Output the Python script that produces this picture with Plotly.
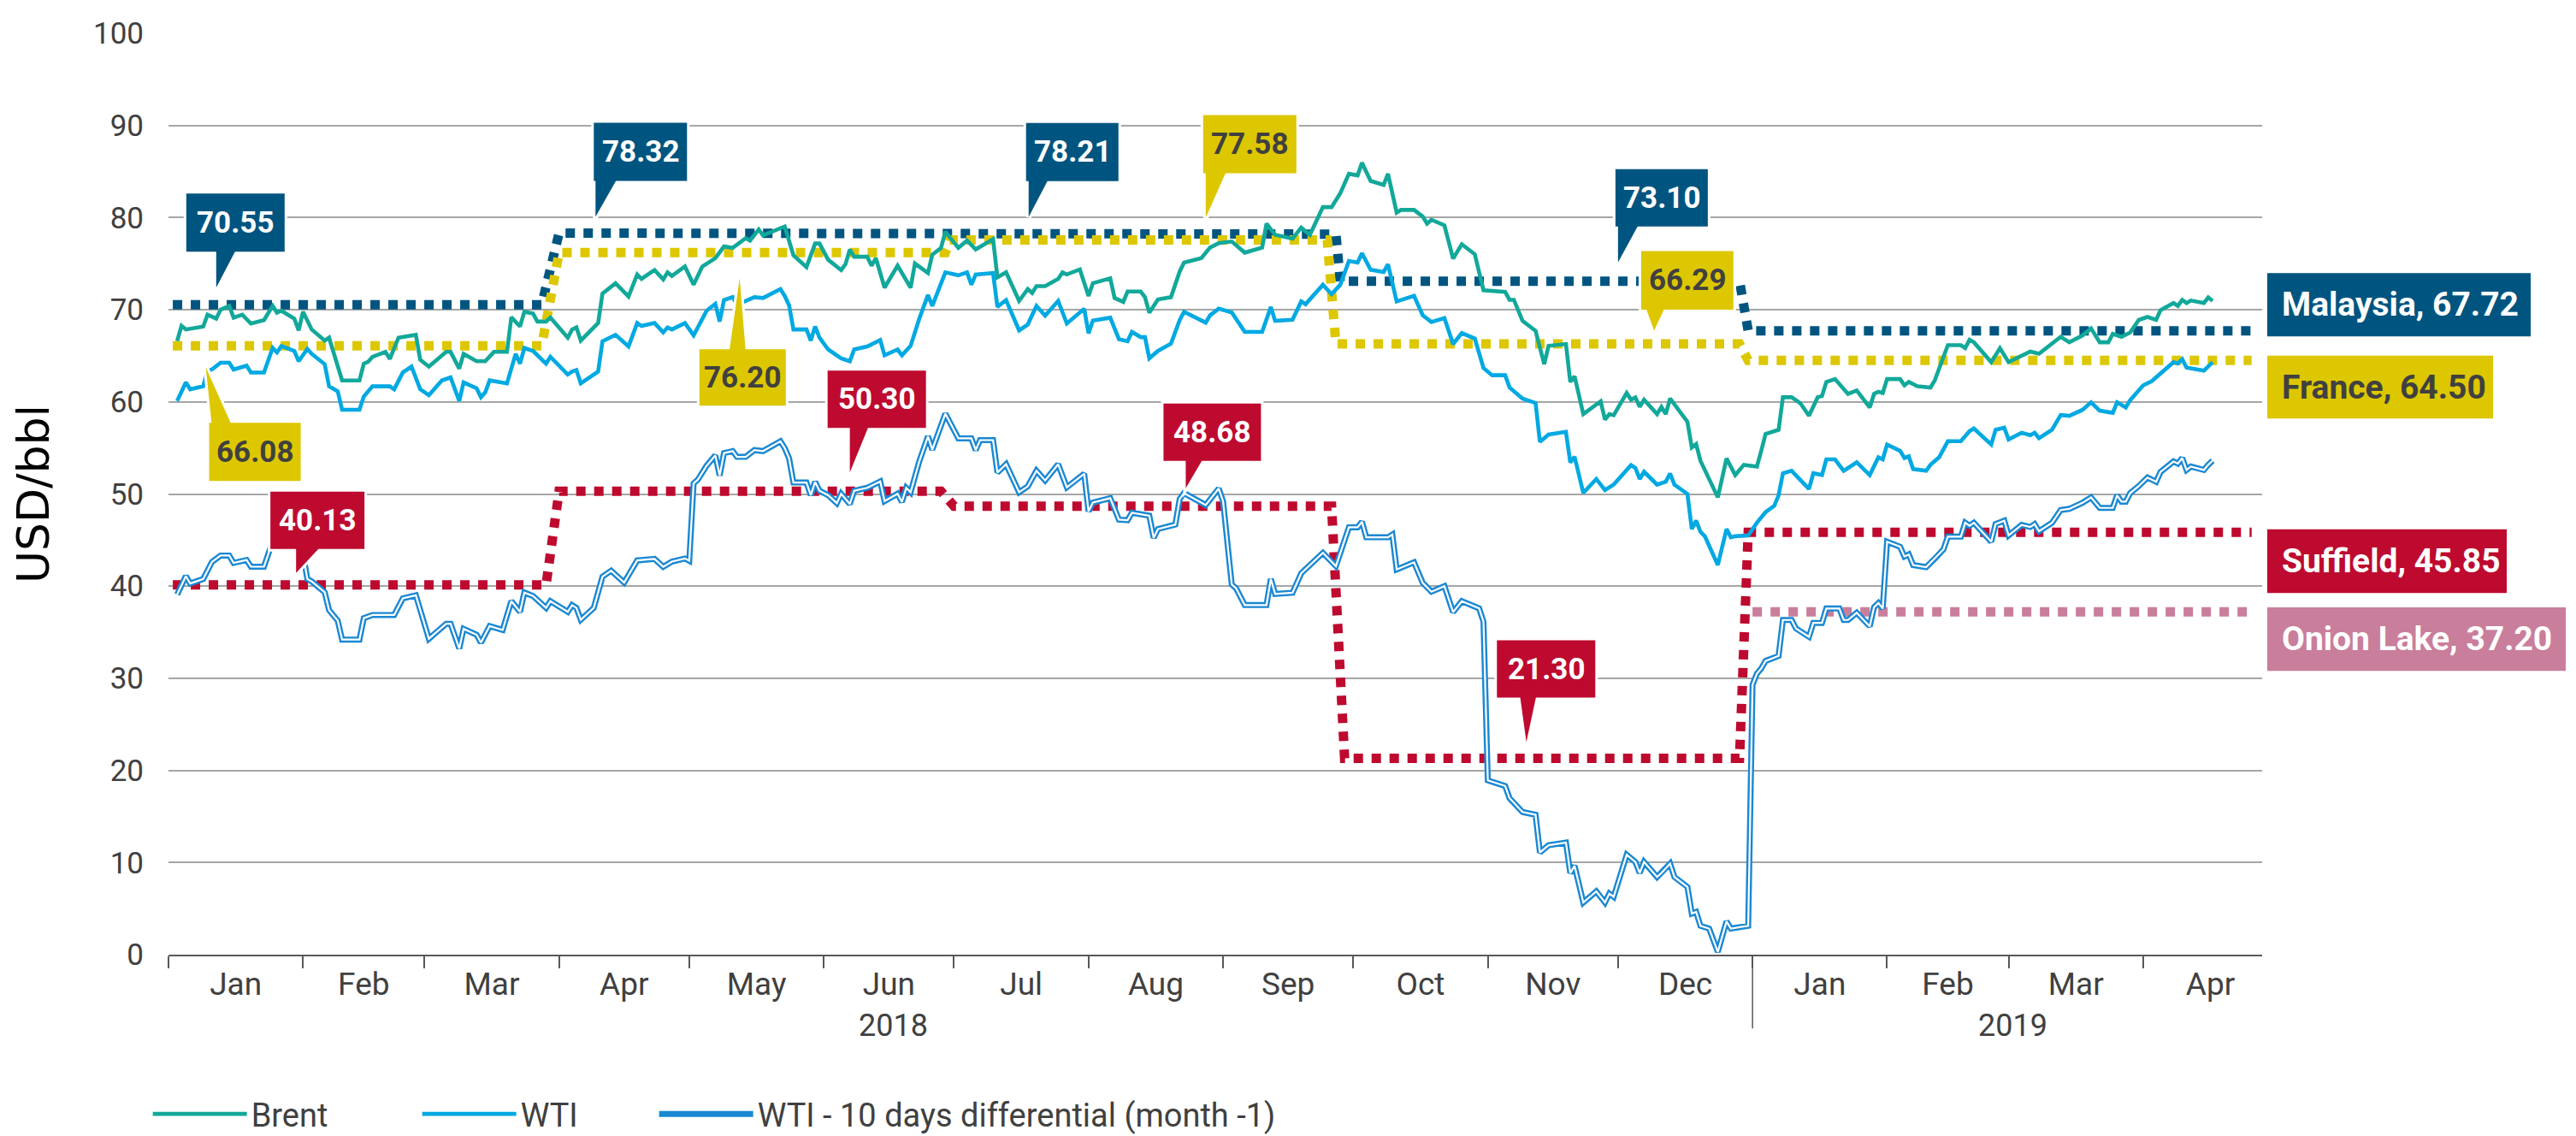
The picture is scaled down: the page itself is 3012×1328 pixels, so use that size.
import plotly.graph_objects as go

# ---------------- DATA ----------------
brent_dates = ["2018-01-03","2018-01-04","2018-01-05","2018-01-09","2018-01-10","2018-01-12","2018-01-13","2018-01-15","2018-01-16","2018-01-18","2018-01-20","2018-01-23","2018-01-25","2018-01-26","2018-01-27","2018-01-30","2018-01-31","2018-02-01","2018-02-03","2018-02-06","2018-02-07","2018-02-08","2018-02-09","2018-02-10","2018-02-14","2018-02-15","2018-02-16","2018-02-17","2018-02-20","2018-02-21","2018-02-23","2018-02-27","2018-02-28","2018-03-02","2018-03-06","2018-03-07","2018-03-09","2018-03-10","2018-03-13","2018-03-15","2018-03-17","2018-03-20","2018-03-21","2018-03-23","2018-03-24","2018-03-26","2018-03-27","2018-03-29","2018-03-30","2018-04-03","2018-04-04","2018-04-05","2018-04-06","2018-04-10","2018-04-11","2018-04-14","2018-04-17","2018-04-19","2018-04-20","2018-04-23","2018-04-25","2018-04-26","2018-04-27","2018-04-30","2018-05-02","2018-05-04","2018-05-07","2018-05-09","2018-05-11","2018-05-14","2018-05-15","2018-05-17","2018-05-18","2018-05-21","2018-05-23","2018-05-25","2018-05-28","2018-05-30","2018-05-31","2018-06-02","2018-06-05","2018-06-06","2018-06-07","2018-06-08","2018-06-11","2018-06-12","2018-06-13","2018-06-15","2018-06-18","2018-06-21","2018-06-22","2018-06-25","2018-06-26","2018-06-28","2018-06-29","2018-07-02","2018-07-04","2018-07-06","2018-07-10","2018-07-11","2018-07-13","2018-07-16","2018-07-18","2018-07-19","2018-07-20","2018-07-22","2018-07-25","2018-07-26","2018-07-27","2018-07-30","2018-08-01","2018-08-02","2018-08-06","2018-08-07","2018-08-09","2018-08-10","2018-08-13","2018-08-14","2018-08-15","2018-08-17","2018-08-20","2018-08-22","2018-08-23","2018-08-27","2018-08-29","2018-08-31","2018-09-03","2018-09-06","2018-09-10","2018-09-11","2018-09-13","2018-09-17","2018-09-19","2018-09-21","2018-09-24","2018-09-26","2018-09-28","2018-09-30","2018-10-02","2018-10-03","2018-10-05","2018-10-08","2018-10-09","2018-10-11","2018-10-12","2018-10-15","2018-10-17","2018-10-18","2018-10-19","2018-10-22","2018-10-24","2018-10-26","2018-10-29","2018-10-31","2018-11-05","2018-11-06","2018-11-07","2018-11-09","2018-11-12","2018-11-14","2018-11-15","2018-11-19","2018-11-20","2018-11-21","2018-11-23","2018-11-27","2018-11-28","2018-11-29","2018-11-30","2018-12-03","2018-12-04","2018-12-05","2018-12-06","2018-12-07","2018-12-10","2018-12-11","2018-12-12","2018-12-13","2018-12-17","2018-12-18","2018-12-19","2018-12-20","2018-12-24","2018-12-26","2018-12-28","2018-12-30","2019-01-02","2019-01-03","2019-01-04","2019-01-07","2019-01-08","2019-01-10","2019-01-12","2019-01-14","2019-01-16","2019-01-17","2019-01-18","2019-01-20","2019-01-23","2019-01-25","2019-01-28","2019-01-29","2019-01-30","2019-01-31","2019-02-01","2019-02-04","2019-02-05","2019-02-06","2019-02-08","2019-02-11","2019-02-12","2019-02-13","2019-02-15","2019-02-18","2019-02-19","2019-02-20","2019-02-21","2019-02-25","2019-02-27","2019-03-01","2019-03-04","2019-03-06","2019-03-08","2019-03-11","2019-03-13","2019-03-15","2019-03-18","2019-03-20","2019-03-22","2019-03-24","2019-03-25","2019-03-27","2019-03-29","2019-03-31","2019-04-02","2019-04-04","2019-04-05","2019-04-08","2019-04-09","2019-04-10","2019-04-11","2019-04-12","2019-04-15","2019-04-16","2019-04-17"]
brent_vals = [66.6,68.24,67.86,68.18,69.46,69.04,70.0,70.42,69.14,69.46,68.5,68.88,70.42,69.68,69.9,69.04,67.76,69.78,67.86,66.65,66.97,65.37,64.09,62.33,62.33,64.15,64.35,64.89,65.43,64.66,66.97,67.28,64.57,63.83,65.43,65.43,63.61,65.21,64.41,64.41,65.43,65.43,69.2,68.18,69.78,69.58,68.72,68.72,69.14,66.97,67.86,68.08,66.65,68.56,71.76,72.88,71.44,73.83,73.35,74.31,73.29,74.06,73.67,74.7,72.72,74.7,75.59,76.87,76.71,77.76,77.51,78.72,78.08,78.63,79.04,75.91,74.63,77.19,77.19,75.43,74.31,74.95,76.55,75.75,75.75,74.79,75.59,72.4,74.79,72.4,75.02,73.99,75.97,76.71,78.47,76.71,77.51,76.55,77.67,73.51,74.06,70.96,72.24,71.82,72.56,72.56,73.35,74.06,73.83,74.38,71.5,72.88,73.42,71.28,70.86,71.98,71.98,71.37,69.68,71.12,71.37,74.15,75.11,75.6,76.75,77.23,77.41,76.2,76.75,79.34,78.13,77.71,78.92,78.13,81.14,81.14,82.65,84.76,84.58,85.96,83.98,83.55,84.76,80.54,80.84,80.84,80.12,79.34,79.76,79.16,75.54,77.11,76.02,72.11,71.93,71.08,71.08,68.8,67.71,64.1,66.08,66.27,62.17,62.77,58.67,60.06,58.07,58.67,58.55,60.96,60.24,60.48,59.46,60.24,58.67,59.46,58.67,60.36,57.83,55.06,55.42,53.61,49.64,53.86,52.05,53.17,52.98,54.68,56.51,56.97,60.5,60.5,59.86,58.49,60.5,60.64,62.16,62.48,60.87,61.24,59.4,60.87,61.1,60.96,62.48,62.48,61.79,62.16,61.7,61.56,62.34,63.62,66.15,66.15,65.83,66.74,66.47,64.31,65.83,64.31,65.0,65.46,65.23,66.28,67.06,66.47,67.2,67.98,66.47,66.47,67.39,67.06,67.52,68.9,69.22,68.9,69.95,70.73,70.41,71.06,70.73,71.0,70.73,71.33,70.96]

wti_dates = ["2018-01-03","2018-01-05","2018-01-06","2018-01-09","2018-01-10","2018-01-11","2018-01-13","2018-01-15","2018-01-16","2018-01-19","2018-01-20","2018-01-23","2018-01-25","2018-01-26","2018-01-27","2018-01-30","2018-01-31","2018-02-02","2018-02-03","2018-02-06","2018-02-07","2018-02-09","2018-02-10","2018-02-14","2018-02-15","2018-02-17","2018-02-21","2018-02-22","2018-02-24","2018-02-26","2018-02-28","2018-03-02","2018-03-05","2018-03-07","2018-03-09","2018-03-10","2018-03-13","2018-03-14","2018-03-15","2018-03-16","2018-03-20","2018-03-22","2018-03-23","2018-03-24","2018-03-26","2018-03-27","2018-03-29","2018-03-30","2018-04-03","2018-04-04","2018-04-05","2018-04-06","2018-04-10","2018-04-11","2018-04-14","2018-04-17","2018-04-19","2018-04-20","2018-04-23","2018-04-25","2018-04-26","2018-04-27","2018-04-30","2018-05-02","2018-05-03","2018-05-05","2018-05-07","2018-05-08","2018-05-09","2018-05-11","2018-05-12","2018-05-16","2018-05-18","2018-05-22","2018-05-23","2018-05-24","2018-05-25","2018-05-28","2018-05-29","2018-05-30","2018-05-31","2018-06-02","2018-06-05","2018-06-07","2018-06-08","2018-06-11","2018-06-14","2018-06-15","2018-06-18","2018-06-19","2018-06-21","2018-06-23","2018-06-25","2018-06-26","2018-06-29","2018-07-02","2018-07-04","2018-07-05","2018-07-06","2018-07-10","2018-07-11","2018-07-13","2018-07-16","2018-07-18","2018-07-20","2018-07-22","2018-07-25","2018-07-27","2018-07-31","2018-08-01","2018-08-02","2018-08-06","2018-08-08","2018-08-10","2018-08-11","2018-08-13","2018-08-14","2018-08-15","2018-08-17","2018-08-20","2018-08-22","2018-08-23","2018-08-28","2018-08-29","2018-08-31","2018-09-03","2018-09-06","2018-09-10","2018-09-12","2018-09-13","2018-09-17","2018-09-19","2018-09-20","2018-09-24","2018-09-26","2018-09-28","2018-09-30","2018-10-02","2018-10-03","2018-10-05","2018-10-08","2018-10-09","2018-10-11","2018-10-15","2018-10-17","2018-10-19","2018-10-22","2018-10-24","2018-10-26","2018-10-29","2018-10-31","2018-11-02","2018-11-05","2018-11-06","2018-11-09","2018-11-12","2018-11-13","2018-11-15","2018-11-19","2018-11-20","2018-11-21","2018-11-23","2018-11-26","2018-11-28","2018-11-30","2018-12-04","2018-12-05","2018-12-06","2018-12-07","2018-12-10","2018-12-12","2018-12-13","2018-12-14","2018-12-17","2018-12-18","2018-12-19","2018-12-20","2018-12-21","2018-12-24","2018-12-26","2018-12-27","2018-12-28","2018-12-31","2019-01-02","2019-01-04","2019-01-06","2019-01-07","2019-01-08","2019-01-10","2019-01-14","2019-01-15","2019-01-17","2019-01-18","2019-01-20","2019-01-22","2019-01-25","2019-01-28","2019-01-30","2019-01-31","2019-02-01","2019-02-04","2019-02-05","2019-02-06","2019-02-07","2019-02-10","2019-02-11","2019-02-13","2019-02-15","2019-02-18","2019-02-20","2019-02-21","2019-02-25","2019-02-26","2019-02-28","2019-03-01","2019-03-04","2019-03-06","2019-03-07","2019-03-08","2019-03-11","2019-03-13","2019-03-15","2019-03-18","2019-03-20","2019-03-22","2019-03-25","2019-03-26","2019-03-28","2019-03-29","2019-04-01","2019-04-03","2019-04-05","2019-04-08","2019-04-09","2019-04-10","2019-04-11","2019-04-15","2019-04-16","2019-04-17"]
wti_vals = [60.1,62.11,61.37,61.69,63.39,63.51,64.25,64.25,63.51,63.93,63.19,63.19,65.85,65.37,66.07,65.53,64.41,65.75,65.21,64.09,61.69,61.15,59.14,59.14,60.58,61.69,61.69,61.37,63.19,63.83,61.37,60.73,62.33,62.65,60.1,62.11,61.47,60.51,61.05,62.33,62.01,65.21,64.15,65.85,65.53,65.05,64.15,64.89,62.97,63.29,63.45,62.01,63.29,66.58,67.28,66.01,68.56,68.24,68.56,67.54,68.08,67.86,68.56,67.22,68.08,69.9,70.64,68.72,71.05,71.37,70.54,71.37,71.28,72.24,71.5,70.48,67.86,67.86,66.65,68.18,66.97,65.69,64.73,64.41,65.69,66.01,66.71,65.05,65.69,65.05,66.07,69.04,71.6,70.42,74.06,73.74,74.06,72.72,73.83,73.99,70.32,71.05,67.76,68.4,70.42,69.36,70.96,68.5,70.1,67.44,68.82,69.14,66.81,66.58,67.6,67.03,67.03,64.73,65.53,66.33,68.88,69.78,68.6,69.4,70.12,69.7,67.59,67.59,70.3,68.8,68.92,70.9,70.6,72.71,71.69,72.71,75.3,75.12,76.14,74.34,74.1,74.94,70.9,71.51,69.4,68.67,69.1,66.27,67.47,66.87,63.67,62.89,62.89,61.57,60.36,59.88,55.66,56.45,56.75,53.43,54.04,50.12,51.63,50.42,51.02,53.13,52.83,51.63,52.41,51.02,51.33,52.23,51.02,50.0,46.2,47.11,45.9,45.42,42.29,46.2,45.3,45.42,45.5,46.88,48.03,48.72,49.86,52.25,52.52,50.55,52.25,52.06,53.76,53.76,52.52,53.44,52.06,53.99,53.76,55.37,54.68,53.9,54.08,52.71,52.52,53.17,53.99,55.73,55.73,56.83,57.11,55.37,56.97,57.2,55.92,56.65,56.38,56.65,56.06,56.97,58.58,58.49,59.13,59.95,59.04,58.81,59.95,59.4,60.18,61.79,62.25,63.07,64.31,64.17,64.63,63.72,63.39,63.85,64.31]

diff_dates = ["2018-01-03","2018-01-05","2018-01-06","2018-01-09","2018-01-11","2018-01-13","2018-01-15","2018-01-16","2018-01-19","2018-01-20","2018-01-23","2018-01-25","2018-01-26","2018-01-27","2018-01-30","2018-01-31","2018-02-01","2018-02-02","2018-02-03","2018-02-06","2018-02-07","2018-02-09","2018-02-10","2018-02-14","2018-02-15","2018-02-17","2018-02-22","2018-02-24","2018-02-27","2018-02-28","2018-03-02","2018-03-06","2018-03-07","2018-03-09","2018-03-10","2018-03-13","2018-03-14","2018-03-16","2018-03-19","2018-03-21","2018-03-23","2018-03-24","2018-03-26","2018-03-29","2018-03-30","2018-04-03","2018-04-04","2018-04-05","2018-04-06","2018-04-09","2018-04-11","2018-04-13","2018-04-16","2018-04-19","2018-04-23","2018-04-25","2018-04-27","2018-04-30","2018-05-01","2018-05-02","2018-05-03","2018-05-05","2018-05-07","2018-05-08","2018-05-09","2018-05-11","2018-05-12","2018-05-14","2018-05-16","2018-05-18","2018-05-22","2018-05-23","2018-05-24","2018-05-25","2018-05-28","2018-05-29","2018-05-30","2018-05-31","2018-06-02","2018-06-04","2018-06-05","2018-06-07","2018-06-08","2018-06-11","2018-06-14","2018-06-15","2018-06-18","2018-06-19","2018-06-20","2018-06-21","2018-06-23","2018-06-25","2018-06-26","2018-06-29","2018-07-02","2018-07-05","2018-07-06","2018-07-07","2018-07-10","2018-07-11","2018-07-13","2018-07-16","2018-07-18","2018-07-20","2018-07-22","2018-07-25","2018-07-27","2018-07-31","2018-08-01","2018-08-02","2018-08-06","2018-08-08","2018-08-10","2018-08-11","2018-08-15","2018-08-16","2018-08-17","2018-08-21","2018-08-22","2018-08-23","2018-08-28","2018-08-31","2018-09-01","2018-09-03","2018-09-04","2018-09-06","2018-09-11","2018-09-12","2018-09-13","2018-09-17","2018-09-19","2018-09-24","2018-09-27","2018-09-30","2018-10-02","2018-10-03","2018-10-04","2018-10-09","2018-10-10","2018-10-11","2018-10-15","2018-10-17","2018-10-19","2018-10-22","2018-10-24","2018-10-26","2018-10-30","2018-10-31","2018-11-01","2018-11-05","2018-11-06","2018-11-09","2018-11-12","2018-11-13","2018-11-15","2018-11-19","2018-11-20","2018-11-21","2018-11-23","2018-11-26","2018-11-28","2018-11-29","2018-11-30","2018-12-03","2018-12-05","2018-12-06","2018-12-07","2018-12-10","2018-12-11","2018-12-13","2018-12-14","2018-12-17","2018-12-18","2018-12-19","2018-12-20","2018-12-22","2018-12-24","2018-12-26","2018-12-27","2018-12-31","2019-01-01","2019-01-02","2019-01-03","2019-01-04","2019-01-07","2019-01-08","2019-01-10","2019-01-11","2019-01-14","2019-01-15","2019-01-17","2019-01-18","2019-01-21","2019-01-22","2019-01-23","2019-01-25","2019-01-28","2019-01-29","2019-01-30","2019-01-31","2019-02-01","2019-02-04","2019-02-05","2019-02-06","2019-02-07","2019-02-10","2019-02-12","2019-02-14","2019-02-15","2019-02-18","2019-02-19","2019-02-20","2019-02-21","2019-02-25","2019-02-26","2019-02-28","2019-03-01","2019-03-04","2019-03-06","2019-03-07","2019-03-08","2019-03-11","2019-03-13","2019-03-15","2019-03-18","2019-03-20","2019-03-22","2019-03-25","2019-03-26","2019-03-27","2019-03-28","2019-03-29","2019-03-31","2019-04-02","2019-04-04","2019-04-05","2019-04-08","2019-04-09","2019-04-10","2019-04-11","2019-04-12","2019-04-15","2019-04-16","2019-04-17"]
diff_vals = [39.1,41.09,40.29,40.77,42.62,43.32,43.32,42.52,42.84,42.11,42.11,44.86,44.44,45.08,44.44,43.48,43.48,40.77,40.51,39.33,37.4,36.25,34.2,34.2,36.52,36.87,36.87,38.67,39.01,37.51,34.29,35.92,35.92,33.22,35.36,34.72,33.86,35.67,35.24,38.37,37.21,39.31,38.93,37.64,38.37,37.21,37.94,37.64,36.35,37.64,41.03,41.67,40.39,42.79,42.96,42.1,42.66,43.0,42.75,51.15,51.57,53.07,54.19,52.01,54.44,54.66,54.03,54.03,54.76,54.66,55.72,54.98,53.87,51.25,51.25,49.87,51.31,50.35,49.87,49.01,50.03,48.91,50.35,50.67,51.37,49.23,50.03,49.14,50.67,50.19,53.55,56.26,54.82,58.72,56.04,56.04,54.76,55.85,55.85,52.33,53.23,50.19,50.83,52.52,51.47,53.23,50.73,52.2,48.12,49.07,49.55,47.22,47.16,47.96,47.64,45.24,46.2,46.68,49.46,50.1,48.8,50.6,49.22,40.18,39.76,37.95,37.95,40.78,39.16,39.28,41.39,43.61,42.17,46.39,46.39,46.99,45.3,45.3,45.6,41.81,42.59,40.36,39.4,40.0,37.17,38.37,37.59,36.14,18.92,18.31,16.99,15.48,15.18,11.08,11.87,12.17,8.86,9.64,5.66,6.87,5.66,6.63,6.27,10.84,10.06,8.86,10.06,8.43,8.86,9.88,8.43,7.35,4.46,4.64,3.13,2.83,0.3,3.61,2.83,3.13,29.3,30.5,31.06,31.88,32.43,36.33,36.33,35.41,34.5,36.01,36.01,37.57,37.57,36.33,36.33,37.11,35.64,37.71,38.17,37.57,44.82,44.27,43.21,43.44,42.29,42.06,42.98,43.99,45.37,45.37,46.88,46.56,46.88,44.82,46.74,47.11,45.5,46.65,46.42,46.74,45.96,46.88,48.26,48.39,49.04,49.63,48.49,48.49,49.86,49.17,49.17,50.09,50.87,51.79,51.33,52.39,53.53,53.3,53.9,52.61,52.98,52.61,53.17,53.62]

malaysia_dates = ["2018-01-02","2018-03-28","2018-04-01","2018-06-29","2018-07-01","2018-09-27","2018-09-28","2018-12-29","2018-12-31","2019-04-26"]
malaysia_vals = [70.55,70.55,78.32,78.32,78.21,78.21,73.10,73.10,67.72,67.72]
france_dates = ["2018-01-02","2018-03-28","2018-04-01","2018-06-29","2018-06-30","2018-09-25","2018-09-27","2018-12-29","2018-12-31","2019-04-26"]
france_vals = [66.08,66.08,76.20,76.20,77.58,77.58,66.29,66.29,64.50,64.50]
suffield_dates = ["2018-01-02","2018-03-29","2018-04-01","2018-06-28","2018-07-01","2018-09-26","2018-09-29","2018-12-29","2018-12-31","2019-04-26"]
suffield_vals = [40.13,40.13,50.30,50.30,48.68,48.68,21.30,21.30,45.85,45.85]
onion_dates = ["2019-01-01","2019-04-26"]
onion_vals = [37.20,37.20]

callout_series = ["Malaysia","France","Malaysia","France","Malaysia","France","Suffield","Suffield","Suffield","Malaysia","France","Suffield"]
callout_dates = ["2018-01-12","2018-01-09","2018-04-09","2018-05-13","2018-07-18","2018-08-28","2018-06-07","2018-08-23","2018-01-30","2018-12-01","2018-12-09","2018-11-10"]
callout_values = [70.55,66.08,78.32,76.20,78.21,77.58,50.30,48.68,40.13,73.10,66.29,21.30]

end_names = ["Malaysia","France","Suffield","Onion Lake"]
end_values = [67.72,64.50,45.85,37.20]

month_tick_start = "2018-01-01"
year_labels = ["2018","2019"]
year_label_dates = ["2018-06-17","2019-03-02"]
year_split_date = "2019-01-01"

# ---------------- STYLE ----------------
FONT = "Roboto, Liberation Sans, sans-serif"
TXT = "#404040"
C_BRENT = "#12A89A"
C_WTI = "#00A9E2"
C_DIFF = "#1A88D2"
SERIES_COL = {"Malaysia": "#005580", "France": "#DDC700", "Suffield": "#BE0A2F", "Onion Lake": "#C97E9B"}
LABEL_TXT = {"Malaysia": "white", "France": TXT, "Suffield": "white", "Onion Lake": "white"}

# callout geometry, pixels relative to anchor (x right, y up)
CALLOUT_BOX = [(-35, 80, 62, 130), (7, 114, -158, -90), (0, 109, 61, 129), (-49, 52, -179, -113),
               (-2, 106, 62, 130), (-3, 106, 78, 146), (-26, 89, 74, 141), (-24, 90, 53, 120),
               (-28, 82, 42, 109), (-3, 105, 64, 131), (-13.5, 94.3, 40, 108.5), (-35, 80, 71, 138)]
CALLOUT_PTR = [[(0, 20), (0, 64), (23, 64)], [(3, -25), (10, -92), (33, -92)], [(2, 19), (2, 63), (27, 63)],
               [(-2, -30), (-14, -115), (5, -115)], [(1, 20), (1, 64), (24, 64)], [(0, 26), (0, 80), (24, 80)],
               [(0, 22), (0, 76), (22, 76)], [(2, 21), (2, 55), (22, 55)], [(2, 14), (2, 44), (30, 44)],
               [(0, 22), (0, 66), (24, 66)], [(1.6, 15.5), (-8, 42), (14, 42)], [(-0.6, 19), (-8, 73), (11, 73)]]
END_BOX = [(6, 314, -6.5, 67.5), (6, 270, -68, 5.6), (6, 286, -71, 3.5), (6, 355, -69, 5.4)]

fig = go.Figure()

step_sets = [("Malaysia", malaysia_dates, malaysia_vals), ("France", france_dates, france_vals),
             ("Suffield", suffield_dates, suffield_vals), ("Onion Lake", onion_dates, onion_vals)]
for name, d, v in step_sets:
    fig.add_trace(go.Scatter(x=d, y=v, mode="lines", name=name, showlegend=False, hoverinfo="skip",
                             line=dict(color=SERIES_COL[name], width=11, dash="11px,10px")))

fig.add_trace(go.Scatter(x=brent_dates, y=brent_vals, mode="lines", name="Brent",
                         line=dict(color=C_BRENT, width=4.6), legendwidth=190))
fig.add_trace(go.Scatter(x=wti_dates, y=wti_vals, mode="lines", name="WTI",
                         line=dict(color=C_WTI, width=4.6), legendwidth=152))
fig.add_trace(go.Scatter(x=diff_dates, y=diff_vals, mode="lines", name="WTI - 10 days differential (month -1)",
                         line=dict(color=C_DIFF, width=7)))
fig.add_trace(go.Scatter(x=diff_dates, y=diff_vals, mode="lines", showlegend=False, hoverinfo="skip",
                         line=dict(color="white", width=2.2)))

shapes = []
annotations = []


def tri(pts):
    (a, b), (c, d), (e, f) = pts
    return f"M {a} {b} L {c} {d} L {e} {f} Z"


for i, (ser, d, v) in enumerate(zip(callout_series, callout_dates, callout_values)):
    col = SERIES_COL[ser]
    x0, x1, u0, u1 = CALLOUT_BOX[i]
    common = dict(xref="x", yref="y", xsizemode="pixel", ysizemode="pixel", xanchor=d, yanchor=v, layer="above")
    p = tri(CALLOUT_PTR[i])
    shapes.append(dict(type="rect", x0=x0 - 3, x1=x1 + 3, y0=u0 - 3, y1=u1 + 3, fillcolor="white", line=dict(width=0), **common))
    shapes.append(dict(type="path", path=p, fillcolor="white", line=dict(color="white", width=6), **common))
    shapes.append(dict(type="rect", x0=x0, x1=x1, y0=u0, y1=u1, fillcolor=col, line=dict(width=0), **common))
    shapes.append(dict(type="path", path=p, fillcolor=col, line=dict(width=0), **common))
    annotations.append(dict(x=d, y=v, xref="x", yref="y", text=f"<b>{v:.2f}</b>", showarrow=False,
                            xshift=(x0 + x1) / 2, yshift=(u0 + u1) / 2, xanchor="center", yanchor="middle",
                            font=dict(family=FONT, size=35, color=LABEL_TXT[ser])))

for i, (name, v) in enumerate(zip(end_names, end_values)):
    x0, x1, u0, u1 = END_BOX[i]
    shapes.append(dict(type="rect", xref="paper", yref="y", xsizemode="pixel", ysizemode="pixel", xanchor=1, yanchor=v,
                       x0=x0, x1=x1, y0=u0, y1=u1, fillcolor=SERIES_COL[name], line=dict(width=0), layer="above"))
    annotations.append(dict(x=1, y=v, xref="paper", yref="y", text=f"<b>{name}, {v:.2f}</b>", showarrow=False,
                            xshift=x0 + 15, yshift=(u0 + u1) / 2, xanchor="left", yanchor="middle",
                            font=dict(family=FONT, size=39, color=LABEL_TXT[name])))

# year separator and year labels
shapes.append(dict(type="line", xref="x", yref="paper", x0=year_split_date, x1=year_split_date, y0=0, y1=-0.08,
                   line=dict(color="#595959", width=1.5)))
for t, d in zip(year_labels, year_label_dates):
    annotations.append(dict(x=d, y=-0.0775, xref="x", yref="paper", text=t, showarrow=False,
                            xanchor="center", yanchor="middle", font=dict(family=FONT, size=36, color=TXT)))

fig.update_layout(
    width=3012, height=1328,
    margin=dict(l=189, r=375, t=31, b=220),
    plot_bgcolor="white", paper_bgcolor="white",
    font=dict(family=FONT, size=36, color=TXT),
    xaxis=dict(type="date", range=["2018-01-01", "2019-04-28 10:00"], tick0=month_tick_start, dtick="M1",
               tickformat="%b", ticklabelmode="period", ticks="outside", ticklen=14, tickwidth=1.5,
               tickcolor="#595959", showline=True, linecolor="#595959", linewidth=1.5, showgrid=False,
               ticklabelstandoff=-13, tickfont=dict(family=FONT, size=37, color=TXT)),
    yaxis=dict(range=[0, 100], dtick=10, showgrid=True, gridcolor="#A6A6A6", gridwidth=1.5, zeroline=False,
               ticks="", ticklabelstandoff=28, tickfont=dict(family=FONT, size=35, color=TXT),
               title=dict(text="USD/bbl", standoff=34,
                          font=dict(family="DejaVu Sans, sans-serif", size=52, color="black"))),
    legend=dict(orientation="h", xref="container", yref="container", x=0.055, y=0.049,
                xanchor="left", yanchor="top", font=dict(family=FONT, size=38, color=TXT),
                itemwidth=110, bgcolor="rgba(0,0,0,0)"),
    shapes=shapes, annotations=annotations,
    showlegend=True,
)

fig.write_html("out.html")
